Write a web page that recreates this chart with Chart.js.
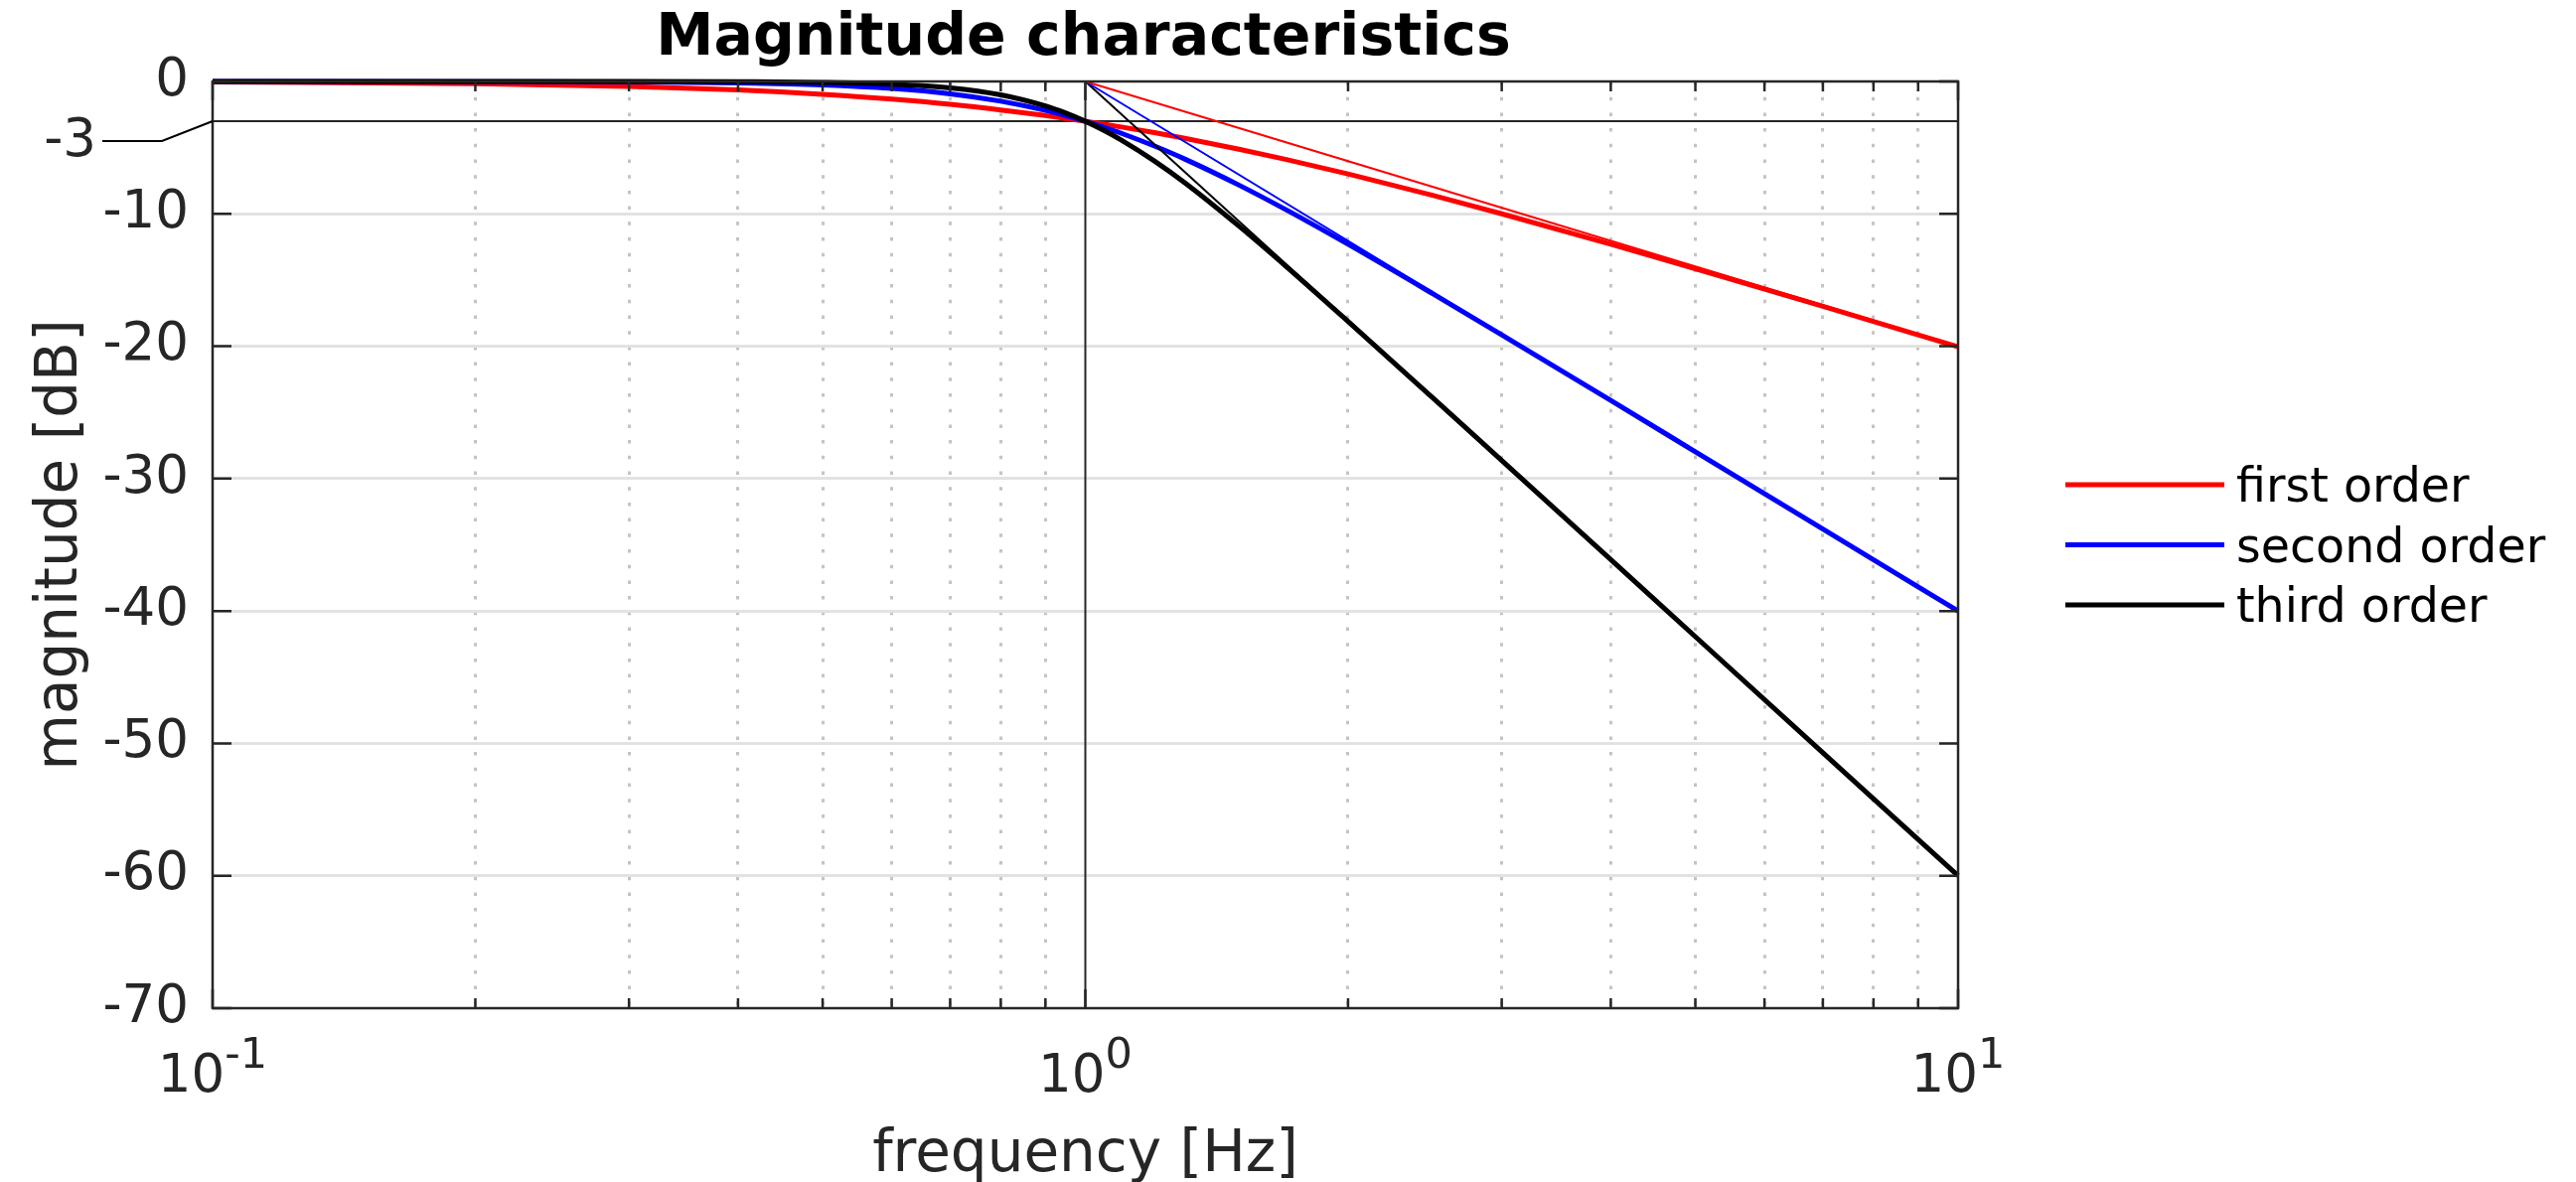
<!DOCTYPE html>
<html>
<head>
<meta charset="utf-8">
<script src="https://cdn.jsdelivr.net/npm/chart.js@4.4.0/dist/chart.umd.min.js"></script>
<style>
  html, body { margin: 0; padding: 0; background: #fff; }
</style>
</head>
<body>
<canvas id="bodeChart" width="2593" height="1190"></canvas>
<script>
// frequency points [Hz] and magnitude [dB]
const freqs = [0.1, 0.2, 0.3, 0.4, 0.5, 0.6, 0.7, 0.8, 0.9, 0.95, 1, 1.05, 1.1, 1.2, 1.3, 1.5, 1.7, 2, 2.5, 3, 4, 5, 7, 10];
const firstOrder  = [-0.04, -0.17, -0.37, -0.64, -0.97, -1.34, -1.73, -2.15, -2.58, -2.79, -3.01, -3.23, -3.44, -3.87, -4.30, -5.12, -5.90, -6.99, -8.60, -10.00, -12.30, -14.15, -16.99, -20.04];
const secondOrder = [0, -0.01, -0.04, -0.11, -0.26, -0.53, -0.93, -1.49, -2.19, -2.59, -3.01, -3.46, -3.92, -4.88, -5.86, -7.83, -9.71, -12.30, -16.03, -19.14, -24.10, -27.97, -33.81, -40.00];
const thirdOrder  = [0, 0, 0, -0.02, -0.07, -0.20, -0.48, -1.01, -1.85, -2.39, -3.01, -3.69, -4.43, -6.01, -7.65, -10.93, -14.00, -18.13, -23.89, -28.63, -36.12, -41.94, -50.71, -60.00];

// straight asymptotes starting at the corner frequency
const asymFreqs = [1, 10];
const asymFirst = [0, -20];
const asymSecond = [0, -40];
const asymThird = [0, -60];

// -3 dB marker and corner frequency marker
const cutoffFreqs = [0.1, 10];
const cutoffLevel = [-3, -3];
const cornerFreqs = [1, 1];
const cornerLevel = [0, -70];

const seriesNames = ['first order', 'second order', 'third order'];
const seriesColors = ['#ff0000', '#0000ff', '#000000'];

// axis ticks
const yTicks = [0, -10, -20, -30, -40, -50, -60, -70];
const xMajor = [0.1, 1, 10];
const xMajorLabels = [['10', '-1'], ['10', '0'], ['10', '1']];
const xMinor = [0.2, 0.3, 0.4, 0.5, 0.6, 0.7, 0.8, 0.9, 2, 3, 4, 5, 6, 7, 8, 9];

const FONT = '"DejaVu Sans", sans-serif';
const AXIS_COLOR = '#262626';

function toPoints(xs, ys) {
  return xs.map((x, i) => ({ x: x, y: ys[i] }));
}

function curve(label, data, color, width, order) {
  return {
    label: label,
    data: data,
    borderColor: color,
    borderWidth: width,
    pointRadius: 0,
    fill: false,
    cubicInterpolationMode: 'monotone',
    clip: false,
    order: order
  };
}

const datasets = [
  curve('cutoff', toPoints(cutoffFreqs, cutoffLevel), AXIS_COLOR, 2, 10),
  curve('corner', toPoints(cornerFreqs, cornerLevel), AXIS_COLOR, 2, 10),
  curve(seriesNames[0], toPoints(freqs, firstOrder), seriesColors[0], 5, 3),
  curve(seriesNames[1], toPoints(freqs, secondOrder), seriesColors[1], 5, 2),
  curve(seriesNames[2], toPoints(freqs, thirdOrder), seriesColors[2], 5, 1),
  curve('asym1', toPoints(asymFreqs, asymFirst), seriesColors[0], 2, 0),
  curve('asym2', toPoints(asymFreqs, asymSecond), seriesColors[1], 2, 0),
  curve('asym3', toPoints(asymFreqs, asymThird), seriesColors[2], 2, 0)
];

// axes box, inward ticks, labels, title and legend (MATLAB style)
const decorPlugin = {
  id: 'decor',
  afterDatasetsDraw(chart) {
    const ctx = chart.ctx;
    const a = chart.chartArea;
    const xs = chart.scales.x, ys = chart.scales.y;
    ctx.save();
    ctx.strokeStyle = AXIS_COLOR;
    ctx.lineWidth = 2.5;
    ctx.strokeRect(a.left, a.top, a.right - a.left, a.bottom - a.top);

    ctx.beginPath();
    yTicks.forEach(v => {
      const y = ys.getPixelForValue(v);
      ctx.moveTo(a.left, y); ctx.lineTo(a.left + 19, y);
      ctx.moveTo(a.right, y); ctx.lineTo(a.right - 19, y);
    });
    xMajor.forEach(v => {
      const x = xs.getPixelForValue(v);
      ctx.moveTo(x, a.bottom); ctx.lineTo(x, a.bottom - 19);
      ctx.moveTo(x, a.top); ctx.lineTo(x, a.top + 19);
    });
    xMinor.forEach(v => {
      const x = xs.getPixelForValue(v);
      ctx.moveTo(x, a.bottom); ctx.lineTo(x, a.bottom - 10);
      ctx.moveTo(x, a.top); ctx.lineTo(x, a.top + 10);
    });
    ctx.stroke();
    ctx.restore();
  },
  afterDraw(chart) {
    const ctx = chart.ctx;
    const a = chart.chartArea;
    const xs = chart.scales.x, ys = chart.scales.y;
    const midX = (a.left + a.right) / 2;
    const midY = (a.top + a.bottom) / 2;
    ctx.save();

    // x tick labels with superscript exponent
    ctx.fillStyle = AXIS_COLOR;
    ctx.textBaseline = 'alphabetic';
    xMajor.forEach((v, i) => {
      const [base, exp] = xMajorLabels[i];
      ctx.font = '53px ' + FONT;
      const wb = ctx.measureText(base).width;
      ctx.font = '43px ' + FONT;
      const we = ctx.measureText(exp).width;
      const x0 = xs.getPixelForValue(v) - (wb + we) / 2;
      ctx.textAlign = 'left';
      ctx.font = '53px ' + FONT;
      ctx.fillText(base, x0, a.bottom + 84);
      ctx.font = '43px ' + FONT;
      ctx.fillText(exp, x0 + wb, a.bottom + 60);
    });

    // -3 dB label with leader line
    const y3 = ys.getPixelForValue(cutoffLevel[0]);
    ctx.strokeStyle = '#000';
    ctx.lineWidth = 2;
    ctx.beginPath();
    ctx.moveTo(a.left - 111, y3 + 20);
    ctx.lineTo(a.left - 51, y3 + 20);
    ctx.lineTo(a.left, y3);
    ctx.stroke();
    ctx.font = '53px ' + FONT;
    ctx.textAlign = 'right';
    ctx.textBaseline = 'middle';
    ctx.fillText(String(cutoffLevel[0]), a.left - 117, y3 + 21);

    // axis titles
    ctx.font = '58px ' + FONT;
    ctx.textAlign = 'center';
    ctx.textBaseline = 'alphabetic';
    ctx.fillText('frequency [Hz]', midX, a.bottom + 164);
    ctx.save();
    ctx.translate(77, midY);
    ctx.rotate(-Math.PI / 2);
    ctx.fillText('magnitude [dB]', 0, 0);
    ctx.restore();

    // title
    ctx.fillStyle = '#000';
    ctx.font = 'bold 58.5px ' + FONT;
    ctx.fillText('Magnitude characteristics', midX - 2, 55);

    // legend
    ctx.font = '47.5px ' + FONT;
    ctx.textAlign = 'left';
    seriesNames.forEach((name, i) => {
      const y = midY + (i - 1) * 60.5;
      ctx.strokeStyle = seriesColors[i];
      ctx.lineWidth = 5;
      ctx.beginPath();
      ctx.moveTo(a.right + 108, y);
      ctx.lineTo(a.right + 268, y);
      ctx.stroke();
      ctx.fillStyle = '#000';
      ctx.fillText(name, a.right + 280, y + 17);
    });
    ctx.restore();
  }
};

const ctx = document.getElementById('bodeChart').getContext('2d');
new Chart(ctx, {
  type: 'line',
  data: { datasets: datasets },
  plugins: [decorPlugin],
  options: {
    responsive: false,
    animation: false,
    devicePixelRatio: 1,
    parsing: false,
    layout: { padding: { top: 82, right: 622, bottom: 0, left: 0 } },
    plugins: {
      legend: { display: false },
      tooltip: { enabled: false },
      title: { display: false }
    },
    scales: {
      x: {
        type: 'logarithmic',
        min: 0.1,
        max: 10,
        afterBuildTicks: scale => {
          scale.ticks = xMajor.concat(xMinor).map(v => ({ value: v }));
        },
        afterFit: scale => { scale.height = 175; },
        ticks: { display: false },
        grid: {
          color: c => xMajor.includes(c.tick.value) ? 'rgba(0,0,0,0)' : '#c4c4c4',
          lineWidth: 3,
          drawTicks: false
        },
        border: { display: false, dash: [3.5, 12.2] }
      },
      y: {
        type: 'linear',
        min: -70,
        max: 0,
        afterBuildTicks: scale => {
          scale.ticks = yTicks.map(v => ({ value: v }));
        },
        afterFit: scale => { scale.width = 214; },
        ticks: {
          font: { family: FONT, size: 53 },
          color: AXIS_COLOR,
          padding: 24
        },
        grid: {
          color: c => (c.tick.value === 0 || c.tick.value === -70) ? 'rgba(0,0,0,0)' : '#e2e2e2',
          lineWidth: 3,
          drawTicks: false
        },
        border: { display: false }
      }
    }
  }
});
</script>
</body>
</html>
